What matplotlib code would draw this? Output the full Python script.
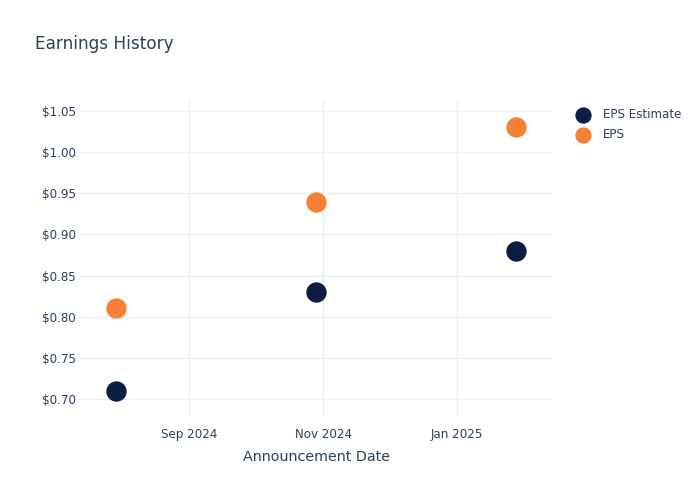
import numpy as np
import pandas as pd
import matplotlib
matplotlib.use("Agg")
import matplotlib.pyplot as plt
import matplotlib.dates as mdates
from matplotlib.ticker import FuncFormatter

# data
dates = pd.to_datetime(["2024-07-30", "2024-10-29", "2025-01-28"])
eps_estimate = [0.71, 0.83, 0.88]
eps_actual = [0.81, 0.94, 1.03]
tick_dates = pd.to_datetime(["2024-09-01", "2024-11-01", "2025-01-01"])
tick_labels = ["Sep 2024", "Nov 2024", "Jan 2025"]
y_ticks = [0.70, 0.75, 0.80, 0.85, 0.90, 0.95, 1.00, 1.05]

text_col = "#2a3f5f"
grid_col = "#ebf0f8"
navy = "#0b1f42"
orange = "#f58134"

plt.rcParams['font.family'] = ['DejaVu Sans']

fig = plt.figure(figsize=(7, 5), dpi=100)
ax = fig.add_axes([80/700, 83/500, 473/700, 317/500])

ax.scatter(dates, eps_estimate, s=215, color=navy, label="EPS Estimate", zorder=3, linewidths=0)
ax.scatter(dates, eps_actual, s=215, color=orange, label="EPS", zorder=3, linewidths=0)

ax.set_xlim(pd.Timestamp("2024-07-13 10:00"), pd.Timestamp("2025-02-13 16:00"))
ax.set_ylim(0.6781, 1.0634)
ax.set_xticks(tick_dates)
ax.set_xticklabels(tick_labels)
ax.set_yticks(y_ticks)
ax.yaxis.set_major_formatter(FuncFormatter(lambda v, p: "${:.2f}".format(v)))

ax.grid(True, color=grid_col, linewidth=1)
ax.set_axisbelow(True)
for s in ax.spines.values():
    s.set_visible(False)
ax.tick_params(length=0, colors=text_col, labelsize=8.6)
ax.tick_params(axis='x', pad=8)
ax.tick_params(axis='y', pad=3)

ax.set_xlabel("Announcement Date", color=text_col, fontsize=10.3, labelpad=6.2)
fig.text(35/700, 1-44/500, "Earnings History", color=text_col, fontsize=12.2, va='center', ha='left')

leg = ax.legend(loc='upper left', bbox_to_anchor=(566/700, 1-103/500), bbox_transform=fig.transFigure,
                frameon=False, fontsize=8.6, handletextpad=0.7, labelspacing=0.6,
                borderaxespad=0, markerscale=0.8)
for t in leg.get_texts():
    t.set_color(text_col)

fig.savefig("out.png", dpi=100)
